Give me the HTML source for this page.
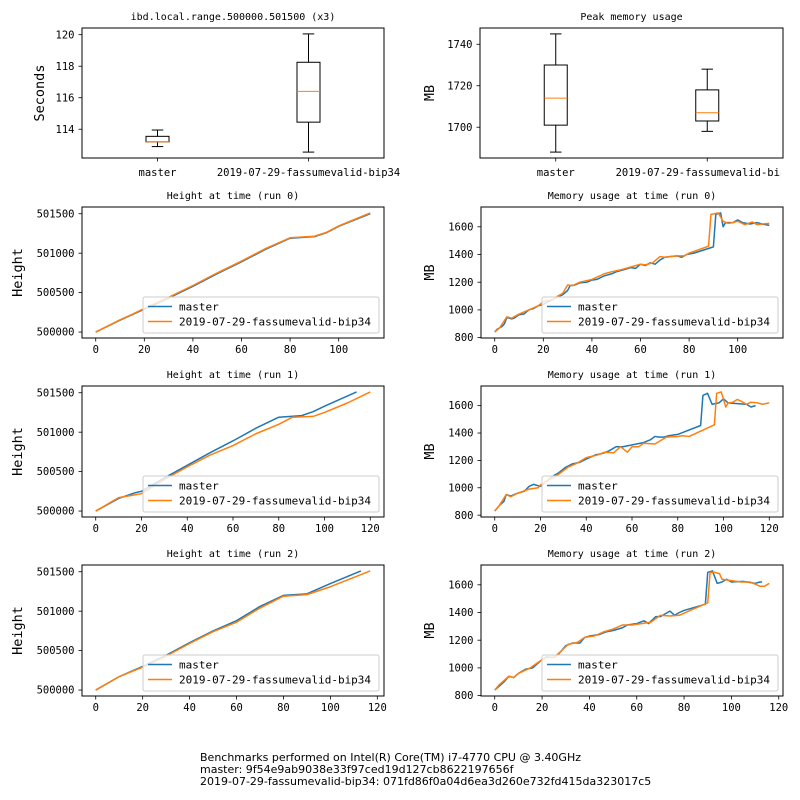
<!DOCTYPE html>
<html><head><meta charset="utf-8"><style>
html,body{margin:0;padding:0;background:#fff}
svg{display:block}
text{font-family:"DejaVu Sans Mono","Liberation Mono",monospace;fill:#000}
.foot{font-family:"DejaVu Sans","Liberation Sans",sans-serif;font-size:11px}
</style></head><body>
<svg id="fig" width="800" height="800" viewBox="0 0 800 800" xmlns="http://www.w3.org/2000/svg">
<defs><clipPath id="rclip"><rect x="0" y="0" width="781" height="800"/></clipPath></defs>
<rect width="800" height="800" fill="#fff"/>
<text class="foot" x="200" y="761">Benchmarks performed on Intel(R) Core(TM) i7-4770 CPU @ 3.40GHz</text>
<text class="foot" x="200" y="773">master: 9f54e9ab9038e33f97ced19d127cb8622197656f</text>
<text class="foot" x="200" y="785">2019-07-29-fassumevalid-bip34: 071fd86f0a04d6ea3d260e732fd415da323017c5</text>
</svg>
<script>
// ---- data ----
const boxCategories = ["master", "2019-07-29-fassumevalid-bip34"];
const secondsStats = [ // [whiskerLo, q1, median, q3, whiskerHi]
  [112.9, 113.2, 113.2, 113.55, 113.95],
  [112.55, 114.45, 116.4, 118.25, 120.05]];
const memPeakStats = [
  [1688, 1701, 1714, 1730, 1745],
  [1698, 1703, 1707, 1718, 1728]];

const h0mX = [0,10,15,20,30,40,50,60,70,80,90,95,100,113];
const h0mY = [500000,500150,500220,500290,500430,500580,500740,500890,501050,501190,501210,501260,501340,501500];
const h0bX = [0,10,15,20,30,40,50,60,70,80,90,95,100,113];
const h0bY = [500000,500155,500225,500300,500440,500590,500750,500900,501060,501195,501215,501265,501345,501510];
const h1mX = [0,10,17,20,30,40,50,60,70,80,90,95,100,114];
const h1mY = [500000,500160,500230,500250,500420,500580,500740,500890,501050,501190,501210,501260,501330,501510];
const h1bX = [0,10,20,30,40,50,60,70,80,86,95,100,110,120];
const h1bY = [500000,500170,500220,500400,500560,500710,500830,500980,501100,501190,501200,501250,501370,501510];
const h2mX = [0,10,20,30,40,50,60,70,80,90,100,113];
const h2mY = [500000,500170,500300,500440,500600,500750,500880,501060,501200,501220,501350,501510];
const h2bX = [0,10,20,30,40,50,60,70,80,90,100,117];
const h2bY = [500000,500170,500290,500430,500590,500740,500860,501040,501190,501210,501310,501510];

const m0mX = [0,1,2,3,4,5,6,7,8,10,12,14,16,18,20,22,24,26,28,30,31,33,35,38,40,42,45,48,50,53,56,58,60,62,64,66,68,70,72,75,77,79,82,90,91,93,94,95,98,100,102,105,108,110,113];
const m0mY = [840,860,870,880,900,945,940,935,940,965,970,1000,1010,1030,1040,1060,1075,1095,1110,1140,1175,1180,1195,1200,1215,1220,1245,1260,1275,1290,1305,1300,1330,1320,1340,1330,1360,1380,1385,1390,1380,1400,1410,1455,1690,1700,1600,1630,1630,1650,1630,1620,1630,1620,1610];
const m0bX = [0,2,5,7,10,14,18,20,24,26,28,30,32,35,40,45,48,52,56,60,62,65,68,70,75,78,80,88,89,92,94,96,98,100,103,106,108,110,113];
const m0bY = [840,870,950,940,970,1000,1030,1060,1075,1100,1120,1180,1175,1200,1220,1260,1275,1290,1310,1330,1325,1340,1385,1380,1390,1390,1410,1460,1690,1700,1640,1625,1630,1640,1615,1635,1615,1620,1625];
const m1mX = [0,2,4,5,7,10,13,15,17,20,22,25,28,31,34,37,40,44,47,50,53,56,59,62,65,68,70,72,74,76,80,90,91,93,95,98,100,102,106,110,112,114];
const m1mY = [830,870,900,950,940,960,975,1010,1025,1010,1040,1080,1110,1150,1175,1185,1210,1240,1250,1270,1300,1300,1310,1320,1330,1350,1375,1370,1370,1380,1390,1455,1675,1690,1610,1620,1650,1620,1615,1610,1590,1600];
const m1bX = [0,2,5,7,10,15,19,20,25,28,32,36,40,45,48,52,55,58,60,63,65,70,72,75,80,82,85,96,97,99,101,102,104,106,108,110,112,115,117,120];
const m1bY = [830,870,950,935,960,990,1000,1020,1070,1100,1150,1180,1220,1240,1260,1255,1300,1260,1300,1300,1325,1320,1340,1370,1375,1380,1375,1460,1690,1700,1590,1620,1625,1645,1630,1610,1625,1620,1610,1620];
const m2mX = [0,2,4,6,8,10,13,16,20,22,25,27,30,33,36,38,40,44,47,50,54,56,60,63,65,68,70,74,76,78,80,89,90,92,94,96,98,100,105,110,112,113];
const m2mY = [840,870,900,940,930,960,990,1000,1060,1080,1075,1100,1160,1180,1180,1220,1230,1240,1260,1270,1290,1310,1320,1340,1320,1370,1370,1410,1380,1400,1415,1460,1690,1700,1610,1620,1640,1620,1625,1610,1620,1620];
const m2bX = [0,2,6,8,10,15,20,22,25,28,31,35,38,42,46,50,54,58,62,66,70,74,78,82,90,91,93,95,96,100,104,108,112,114,116];
const m2bY = [840,880,940,930,960,1000,1060,1075,1075,1120,1170,1185,1220,1230,1260,1280,1310,1310,1320,1330,1380,1375,1380,1410,1470,1690,1690,1680,1640,1630,1620,1620,1590,1590,1610];

const heightTicks = [500000,500500,501000,501500];
const memTicks = [800,1000,1200,1400,1600];
const xTicks = [0,20,40,60,80,100,120];
const secTicks = [114,116,118,120];
const peakTicks = [1700,1720,1740];
const seriesNames = ["master","2019-07-29-fassumevalid-bip34"];
const runTitles = ["Height at time (run 0)","Height at time (run 1)","Height at time (run 2)"];
const memTitles = ["Memory usage at time (run 0)","Memory usage at time (run 1)","Memory usage at time (run 2)"];

// ---- rendering ----
const NS = "http://www.w3.org/2000/svg";
const svg = document.getElementById("fig");
const C = ["#1f77b4","#ff7f0e"];
function mk(tag, attrs, parent){ const e=document.createElementNS(NS,tag); for(const k in attrs) e.setAttribute(k,attrs[k]); (parent||svg).appendChild(e); return e; }
function txt(s, attrs, parent){ const e=mk("text",attrs,parent); e.textContent=s; return e; }
function lim(vals){ let lo=Math.min(...vals), hi=Math.max(...vals), m=(hi-lo)*0.05; return [lo-m, hi+m]; }
function scale(d0,d1,p0,p1){ return v => p0+(v-d0)*(p1-p0)/(d1-d0); }

function axesFrame(g, x0,y0,x1,y1, name){
  const r = mk("rect",{x:x0,y:y0,width:x1-x0,height:y1-y0,fill:"none",stroke:"#000","stroke-width":1},g);
  
  
}
function yTicksDraw(g, ticks, sy, x0, y0, y1, name){
  ticks.forEach(t=>{
    const y=sy(t); if(y<y0-0.5||y>y1+0.5) return;
    const l=mk("line",{x1:x0-3.5,x2:x0,y1:y,y2:y,stroke:"#000","stroke-width":0.8},g);
    
    
    const tx=txt(String(t),{x:x0-7.5,y:y+3.6,"font-size":"10.5","text-anchor":"end"},g);
    
    
  });
}
function xTicksDraw(g, ticks, sx, x0, x1, y1, name){
  ticks.forEach(t=>{
    const x=sx(t); if(x<x0-0.5||x>x1+0.5) return;
    const l=mk("line",{x1:x,x2:x,y1:y1,y2:y1+3.5,stroke:"#000","stroke-width":0.8},g);
    
    
    const tx=txt(String(t),{x:x,y:y1+15,"font-size":"10.5","text-anchor":"middle"},g);
    
    
  });
}
function title(g, s, cx, y, name){
  const t=txt(s,{x:cx,y:y,"font-size":"10","text-anchor":"middle"},g);
  
  
}
function ylabel(g, s, x, cy, name){
  const t=txt(s,{x:x,y:cy,"font-size":"13.5","text-anchor":"middle",transform:`rotate(-90 ${x} ${cy})`},g);
  
  
}

function boxPanel(name, x0,y0,x1,y1, stats, ticks, ttl, ylab, ylx, clip){
  const g=mk("g",{});  
  const all=stats.flat();
  const [lo,hi]=lim(all);
  const sy=scale(lo,hi,y1,y0);
  const sx=scale(0.5,2.5,x0,x1);
  title(g, ttl, (x0+x1)/2, y0-8, name);
  stats.forEach((s,i)=>{
    const cx=sx(i+1), hw=11.5;
    const bg=mk("g",{},g);
    
    
    const st={stroke:"#000","stroke-width":1,fill:"none"};
    mk("line",Object.assign({x1:cx,x2:cx,y1:sy(s[0]),y2:sy(s[1])},st),bg);
    mk("line",Object.assign({x1:cx,x2:cx,y1:sy(s[3]),y2:sy(s[4])},st),bg);
    mk("line",Object.assign({x1:cx-hw/2,x2:cx+hw/2,y1:sy(s[0]),y2:sy(s[0])},st),bg);
    mk("line",Object.assign({x1:cx-hw/2,x2:cx+hw/2,y1:sy(s[4]),y2:sy(s[4])},st),bg);
    mk("rect",Object.assign({x:cx-hw,y:sy(s[3]),width:2*hw,height:sy(s[1])-sy(s[3])},st),bg);
    const md=mk("line",{x1:cx-hw,x2:cx+hw,y1:sy(s[2]),y2:sy(s[2]),stroke:C[1],"stroke-width":1},bg);
    
    
    mk("line",{x1:cx,x2:cx,y1:y1,y2:y1+3.5,stroke:"#000","stroke-width":0.8},g);
    const tl=txt(boxCategories[i],{x:cx,y:y1+18,"font-size":"10.5","text-anchor":"middle"},g);
    if(clip) tl.setAttribute("clip-path","url(#rclip)");
    
    
  });
  axesFrame(g,x0,y0,x1,y1,name);
  yTicksDraw(g,ticks,sy,x0,y0,y1,name);
  ylabel(g,ylab,ylx,(y0+y1)/2,name);
}

function linePanel(name, x0,y0,x1,y1, xs, ys, yt, ttl, ylab, ylx){
  const g=mk("g",{});  
  const [xlo,xhi]=lim([...xs[0],...xs[1]]);
  const [ylo,yhi]=lim([...ys[0],...ys[1]]);
  const sx=scale(xlo,xhi,x0,x1), sy=scale(ylo,yhi,y1,y0);
  title(g, ttl, (x0+x1)/2, y0-8, name);
  [0,1].forEach(i=>{
    const d=xs[i].map((x,k)=>(k?"L":"M")+sx(x).toFixed(2)+" "+sy(ys[i][k]).toFixed(2)).join(" ");
    const p=mk("path",{d:d,fill:"none",stroke:C[i],"stroke-width":1.5,"stroke-linejoin":"round"},g);
    
    
  });
  axesFrame(g,x0,y0,x1,y1,name);
  yTicksDraw(g,yt,sy,x0,y0,y1,name);
  xTicksDraw(g,xTicks,sx,x0,x1,y1,name);
  ylabel(g,ylab,ylx,(y0+y1)/2,name);
  const lw=236, lh=36, lx=x1-5-lw, ly=y1-5-lh;
  const lg=mk("g",{},g);
  
  
  mk("rect",{x:lx,y:ly,width:lw,height:lh,rx:2,fill:"#fff","fill-opacity":0.8,stroke:"#ccc","stroke-width":1},lg);
  seriesNames.forEach((s,i)=>{
    const yy=ly+9.5+i*15;
    const e=mk("g",{},lg);
    
    
    mk("line",{x1:lx+5,x2:lx+29,y1:yy,y2:yy,stroke:C[i],"stroke-width":1.5},e);
    txt(s,{x:lx+36,y:yy+3.8,"font-size":"11"},e);
  });
}

boxPanel("seconds-boxplot",82,28,384,158,secondsStats,secTicks,"ibd.local.range.500000.501500 (x3)","Seconds",44,false);
boxPanel("peak-memory-boxplot",480,28,783,158,memPeakStats,peakTicks,"Peak memory usage","MB",434,true);

const HX=[[h0mX,h0bX],[h1mX,h1bX],[h2mX,h2bX]], HY=[[h0mY,h0bY],[h1mY,h1bY],[h2mY,h2bY]];
const MX=[[m0mX,m0bX],[m1mX,m1bX],[m2mX,m2bX]], MY=[[m0mY,m0bY],[m1mY,m1bY],[m2mY,m2bY]];
[207,386,565].forEach((yt,r)=>{
  linePanel("height-run-"+r,82,yt,384,yt+131,HX[r],HY[r],heightTicks,runTitles[r],"Height",22);
  linePanel("memory-run-"+r,481,yt,783,yt+131,MX[r],MY[r],memTicks,memTitles[r],"MB",434);
});
</script>
</body></html>
